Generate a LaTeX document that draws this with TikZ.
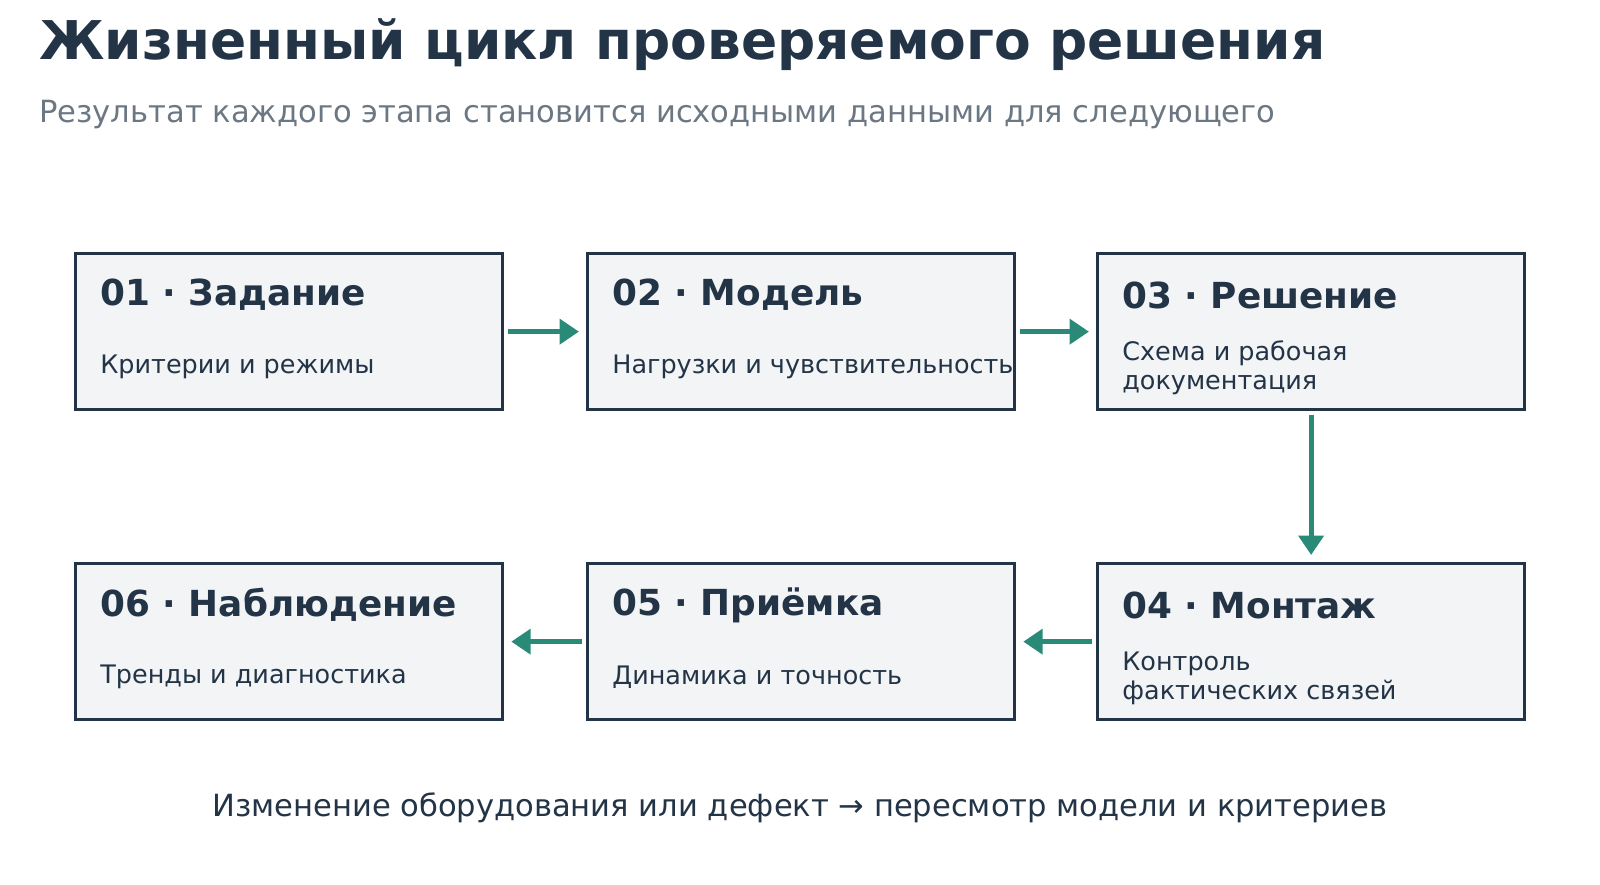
\documentclass[tikz,border=0pt]{standalone}
\usepackage{fontspec}
\setmainfont{DejaVu Sans}
\usetikzlibrary{positioning,arrows.meta}
\definecolor{ink}{HTML}{243447}
\definecolor{sub}{HTML}{6B7782}
\definecolor{boxfill}{HTML}{F2F4F6}
\definecolor{teal}{HTML}{2A8A78}
\tikzset{
  stage/.style={draw=ink,line width=1.9pt,fill=boxfill,minimum width=8.54cm,minimum height=3.12cm,inner sep=0pt},
  head/.style={anchor=west,font=\fontsize{20.4}{24}\selectfont\bfseries,text=ink,inner sep=0pt},
  body/.style={anchor=west,font=\fontsize{14.5}{16.5}\selectfont,text=ink,align=left,inner sep=0pt},
  flow/.style={draw=teal,line width=2.8pt,-{Triangle[length=11pt,width=14pt]}}
}
\begin{document}
\begin{tikzpicture}[x=0.02cm,y=-0.02cm]
    \useasboundingbox (0,0) rectangle (1600,885);
    \node[anchor=base west,inner sep=0pt,font=\fontsize{30.4}{36}\selectfont\bfseries,text=ink] (title) at (39,60) {Жизненный цикл проверяемого решения};
    \node[anchor=base west,inner sep=0pt,font=\fontsize{17.4}{20}\selectfont,text=sub] (subtitle) at (39,123) {Результат каждого этапа становится исходными данными для следующего};

    % stages, top row
    \node[stage,anchor=north west] (s1) at (74,252) {};
    \node[stage,anchor=north west] (s2) at (586,252) {};
    \node[stage,anchor=north west] (s3) at (1096,252) {};
    % stages, bottom row
    \node[stage,anchor=north west] (s6) at (74,562) {};
    \node[stage,anchor=north west] (s5) at (586,562) {};
    \node[stage,anchor=north west] (s4) at (1096,562) {};

    \node[head] at (100,295) {01 · Задание};
    \node[body] at (100,367) {Критерии и режимы};
    \node[head] at (612,295) {02 · Модель};
    \node[body] at (612,367) {Нагрузки и чувствительность};
    \node[head] at (1122,295) {03 · Решение};
    \node[body] at (1122,368) {Схема и рабочая\\документация};
    \node[head] at (1122,605) {04 · Монтаж};
    \node[body] at (1122,678) {Контроль\\фактических связей};
    \node[head] at (612,605) {05 · Приёмка};
    \node[body] at (612,677) {Динамика и точность};
    \node[head] at (100,605) {06 · Наблюдение};
    \node[body] at (100,677) {Тренды и диагностика};

    \draw[flow] ([xshift=2pt]s1.east) -- ([xshift=-4pt]s2.west);
    \draw[flow] ([xshift=2pt]s2.east) -- ([xshift=-4pt]s3.west);
    \draw[flow] ([yshift=-2pt]s3.south) -- ([yshift=4pt]s4.north);
    \draw[flow] ([xshift=-2pt]s4.west) -- ([xshift=4pt]s5.east);
    \draw[flow] ([xshift=-2pt]s5.west) -- ([xshift=4pt]s6.east);

    \node[anchor=base,inner sep=0pt,font=\fontsize{17.4}{20}\selectfont,text=ink] (note) at (800,816) {Изменение оборудования или дефект → пересмотр модели и критериев};
\end{tikzpicture}
\end{document}
